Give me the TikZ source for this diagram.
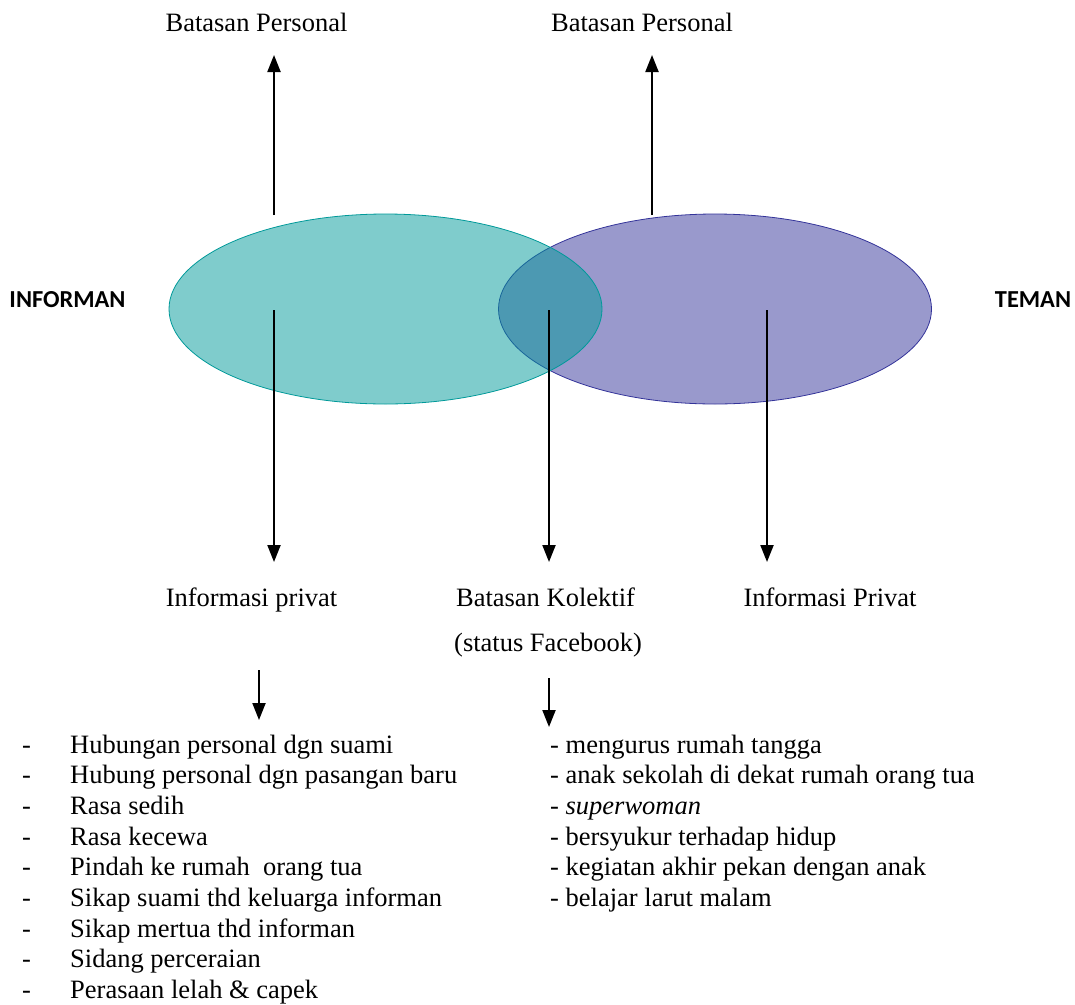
\documentclass[tikz,border=0pt]{standalone}
\usepackage{fontspec}
\setmainfont{Liberation Serif}
\newfontfamily\calib{Carlito}
\usetikzlibrary{arrows.meta,shapes.geometric}
\definecolor{tealC}{RGB}{0,153,153}
\definecolor{purpC}{RGB}{51,51,153}
\begin{document}
\begin{tikzpicture}[x=1pt,y=-1pt,
 lbl/.style={inner sep=0pt,anchor=base,font=\fontsize{26.5}{30}\selectfont},
 side/.style={inner sep=0pt,font=\calib\bfseries\fontsize{24.4}{28}\selectfont},
 arr/.style={line width=2.1pt,-{Triangle[width=13pt,length=17pt]}},
 item/.style={inner sep=0pt,anchor=base west,font=\fontsize{26.5}{30}\selectfont},
 venn/.style={ellipse,minimum width=433pt,minimum height=190pt,inner sep=0pt,line width=0.8pt}]
\useasboundingbox (0,0) rectangle (1075,1004);
% Venn ellipses
\node[venn,draw=purpC,fill=purpC,fill opacity=0.5,draw opacity=1] (tem) at (715,309) {};
\node[venn,draw=tealC,fill=tealC,fill opacity=0.5,draw opacity=1] (inf) at (385.5,309) {};
% side labels
\node[side] (informan) at (67.5,300) {INFORMAN};
\node[side] (teman) at (1033,300) {TEMAN};
% top labels
\node[lbl] (bp1) at (256.5,31) {Batasan Personal};
\node[lbl] (bp2) at (642,31) {Batasan Personal};
% middle labels
\node[lbl] (ip1) at (251.5,606) {Informasi privat};
\node[lbl] (bk) at (545.5,606) {Batasan Kolektif};
\node[lbl] (sf) at (548,651) {(status Facebook)};
\node[lbl] (ip2) at (830,606) {Informasi Privat};
% connector endpoints
\coordinate (u1s) at (274,215); \coordinate (u1e) at (274,55);
\coordinate (u2s) at (652,215); \coordinate (u2e) at (652,55);
\coordinate (d1s) at (274,310); \coordinate (d1e) at (274,562);
\coordinate (d2s) at (549,310); \coordinate (d2e) at (549,562);
\coordinate (d3s) at (767,310); \coordinate (d3e) at (767,562);
\coordinate (e1s) at (259,670); \coordinate (e1e) at (259,720);
\coordinate (e2s) at (549,678); \coordinate (e2e) at (549,727);
\draw[arr] (u1s) -- (u1e);
\draw[arr] (u2s) -- (u2e);
\draw[arr] (d1s) -- (d1e);
\draw[arr] (d2s) -- (d2e);
\draw[arr] (d3s) -- (d3e);
\draw[arr] (e1s) -- (e1e);
\draw[arr] (e2s) -- (e2e);
% left list
\foreach \t [count=\i] in {Hubungan personal dgn suami, Hubung personal dgn pasangan baru, Rasa sedih, Rasa kecewa, Pindah ke rumah\ \ orang tua, Sikap suami thd keluarga informan, Sikap mertua thd informan, Sidang perceraian, Perasaan lelah \& capek}{
  \node[item] (ld\i) at (22,{753+30.7*(\i-1)}) {-};
  \node[item] (lt\i) at (70,{753+30.7*(\i-1)}) {\t};
}
% right list
\foreach \t [count=\i] in {mengurus rumah tangga, anak sekolah di dekat rumah orang tua, \textit{superwoman}, bersyukur terhadap hidup, kegiatan akhir pekan dengan anak, belajar larut malam}{
  \node[item] (rt\i) at (550,{753+30.7*(\i-1)}) {- \t};
}
\end{tikzpicture}
\end{document}
